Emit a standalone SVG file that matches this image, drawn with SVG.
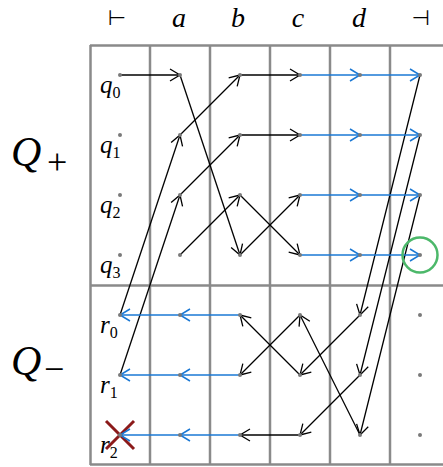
<svg xmlns="http://www.w3.org/2000/svg" width="443" height="467" viewBox="0 0 443 467">
<defs>
<style>
.grid{stroke:#8a8a8a;stroke-width:2.5;fill:none}
.e{stroke:#000;stroke-width:1.3;fill:none;marker-end:url(#ab)}
.b{stroke:#1a78d4;stroke-width:1.5;fill:none;marker-end:url(#au)}
.dot{fill:#7a7a7a}
text{fill:#000}
</style>
<marker id="ab" markerUnits="userSpaceOnUse" markerWidth="24" markerHeight="24" viewBox="-12 -12 24 24" refX="0" refY="0" orient="auto">
<path d="M-10,-6 L0,0 L-10,6" fill="none" stroke="#000" stroke-width="1.3"/>
</marker>
<marker id="au" markerUnits="userSpaceOnUse" markerWidth="24" markerHeight="24" viewBox="-12 -12 24 24" refX="0" refY="0" orient="auto">
<path d="M-10,-6 L0,0 L-10,6" fill="none" stroke="#1a78d4" stroke-width="1.5"/>
</marker>
</defs>
<rect width="443" height="467" fill="#fff"/>
<g id="grid">
<line class="grid" x1="90" y1="45.5" x2="443" y2="45.5"/>
<line class="grid" x1="90" y1="285.5" x2="443" y2="285.5"/>
<line class="grid" x1="90" y1="464.5" x2="443" y2="464.5"/>
<line class="grid" x1="90.5" y1="45" x2="90.5" y2="465"/>
<line class="grid" x1="150" y1="45" x2="150" y2="465"/>
<line class="grid" x1="210" y1="45" x2="210" y2="465"/>
<line class="grid" x1="270" y1="45" x2="270" y2="465"/>
<line class="grid" x1="330" y1="45" x2="330" y2="465"/>
<line class="grid" x1="390" y1="45" x2="390" y2="465"/>
</g>
<g id="header" font-family="Liberation Serif, DejaVu Serif, serif" font-style="italic" font-size="28">
<text x="117" y="25" text-anchor="middle" font-family="DejaVu Sans, sans-serif" font-style="normal" font-size="21">⊢</text>
<text x="179" y="27" text-anchor="middle">a</text>
<text x="238" y="27" text-anchor="middle">b</text>
<text x="298" y="27" text-anchor="middle">c</text>
<text x="359" y="27" text-anchor="middle">d</text>
<text x="421" y="25" text-anchor="middle" font-family="DejaVu Sans, sans-serif" font-style="normal" font-size="21">⊣</text>
</g>
<g id="section-labels" font-family="Liberation Serif, DejaVu Serif, serif">
<text x="11" y="166" font-style="italic" font-size="42">Q</text>
<text x="47" y="174" font-size="36">+</text>
<text x="11" y="375" font-style="italic" font-size="42">Q</text>
<text x="44" y="381" font-size="36">−</text>
</g>
<g id="state-labels" font-family="Liberation Serif, DejaVu Serif, serif" font-style="italic" font-size="25">
<text x="100" y="93">q<tspan font-style="normal" font-size="16" dy="4.5">0</tspan></text>
<text x="100" y="153">q<tspan font-style="normal" font-size="16" dy="4.5">1</tspan></text>
<text x="100" y="213">q<tspan font-style="normal" font-size="16" dy="4.5">2</tspan></text>
<text x="100" y="273">q<tspan font-style="normal" font-size="16" dy="4.5">3</tspan></text>
<text x="100" y="333">r<tspan font-style="normal" font-size="16" dy="4.5">0</tspan></text>
<text x="100" y="393">r<tspan font-style="normal" font-size="16" dy="4.5">1</tspan></text>
<text x="100" y="453">r<tspan font-style="normal" font-size="16" dy="4.5">2</tspan></text>
</g>
<g id="mark-reject">
<line x1="106" y1="421" x2="134" y2="449" stroke="#8b1a1a" stroke-width="3"/>
<line x1="134" y1="421" x2="106" y2="449" stroke="#8b1a1a" stroke-width="3"/>
</g>
<g id="connectors">
<line class="e" x1="120" y1="75" x2="180" y2="75"/>
<line class="e" x1="180" y1="75" x2="240" y2="255"/>
<line class="e" x1="180" y1="135" x2="240" y2="75"/>
<line class="e" x1="120" y1="315" x2="180" y2="135"/>
<line class="e" x1="120" y1="375" x2="180" y2="195"/>
<line class="e" x1="180" y1="195" x2="240" y2="135"/>
<line class="e" x1="180" y1="255" x2="240" y2="195"/>
<line class="e" x1="240" y1="75" x2="300" y2="75"/>
<line class="e" x1="240" y1="135" x2="300" y2="135"/>
<line class="e" x1="240" y1="195" x2="300" y2="255"/>
<line class="e" x1="240" y1="255" x2="300" y2="195"/>
<line class="e" x1="420" y1="75" x2="360" y2="315"/>
<line class="e" x1="420" y1="135" x2="360" y2="375"/>
<line class="e" x1="420" y1="195" x2="360" y2="435"/>
<line class="e" x1="360" y1="315" x2="300" y2="375"/>
<line class="e" x1="360" y1="375" x2="300" y2="435"/>
<line class="e" x1="360" y1="435" x2="300" y2="315"/>
<line class="e" x1="300" y1="375" x2="240" y2="315"/>
<line class="e" x1="300" y1="315" x2="240" y2="375"/>
<line class="e" x1="300" y1="435" x2="240" y2="435"/>
<line class="b" x1="300" y1="75" x2="360" y2="75"/>
<line class="b" x1="360" y1="75" x2="420" y2="75"/>
<line class="b" x1="300" y1="135" x2="360" y2="135"/>
<line class="b" x1="360" y1="135" x2="420" y2="135"/>
<line class="b" x1="300" y1="195" x2="360" y2="195"/>
<line class="b" x1="360" y1="195" x2="420" y2="195"/>
<line class="b" x1="300" y1="255" x2="360" y2="255"/>
<line class="b" x1="360" y1="255" x2="420" y2="255"/>
<line class="b" x1="240" y1="315" x2="180" y2="315"/>
<line class="b" x1="180" y1="315" x2="120" y2="315"/>
<line class="b" x1="240" y1="375" x2="180" y2="375"/>
<line class="b" x1="180" y1="375" x2="120" y2="375"/>
<line class="b" x1="240" y1="435" x2="180" y2="435"/>
<line class="b" x1="180" y1="435" x2="120" y2="435"/>
</g>
<g id="mark-accept">
<circle cx="420" cy="255" r="17.5" fill="none" stroke="#4cb86a" stroke-width="2.5"/>
</g>
<g id="nodes">
<g id="n-start-q0"><circle class="dot" cx="120" cy="75" r="2"/></g>
<g id="n-start-q1"><circle class="dot" cx="120" cy="135" r="2"/></g>
<g id="n-start-q2"><circle class="dot" cx="120" cy="195" r="2"/></g>
<g id="n-start-q3"><circle class="dot" cx="120" cy="255" r="2"/></g>
<g id="n-start-r0"><circle class="dot" cx="120" cy="315" r="2"/></g>
<g id="n-start-r1"><circle class="dot" cx="120" cy="375" r="2"/></g>
<g id="n-start-r2"><circle class="dot" cx="120" cy="435" r="2"/></g>
<g id="n-a-q0"><circle class="dot" cx="180" cy="75" r="2"/></g>
<g id="n-a-q1"><circle class="dot" cx="180" cy="135" r="2"/></g>
<g id="n-a-q2"><circle class="dot" cx="180" cy="195" r="2"/></g>
<g id="n-a-q3"><circle class="dot" cx="180" cy="255" r="2"/></g>
<g id="n-a-r0"><circle class="dot" cx="180" cy="315" r="2"/></g>
<g id="n-a-r1"><circle class="dot" cx="180" cy="375" r="2"/></g>
<g id="n-a-r2"><circle class="dot" cx="180" cy="435" r="2"/></g>
<g id="n-b-q0"><circle class="dot" cx="240" cy="75" r="2"/></g>
<g id="n-b-q1"><circle class="dot" cx="240" cy="135" r="2"/></g>
<g id="n-b-q2"><circle class="dot" cx="240" cy="195" r="2"/></g>
<g id="n-b-q3"><circle class="dot" cx="240" cy="255" r="2"/></g>
<g id="n-b-r0"><circle class="dot" cx="240" cy="315" r="2"/></g>
<g id="n-b-r1"><circle class="dot" cx="240" cy="375" r="2"/></g>
<g id="n-b-r2"><circle class="dot" cx="240" cy="435" r="2"/></g>
<g id="n-c-q0"><circle class="dot" cx="300" cy="75" r="2"/></g>
<g id="n-c-q1"><circle class="dot" cx="300" cy="135" r="2"/></g>
<g id="n-c-q2"><circle class="dot" cx="300" cy="195" r="2"/></g>
<g id="n-c-q3"><circle class="dot" cx="300" cy="255" r="2"/></g>
<g id="n-c-r0"><circle class="dot" cx="300" cy="315" r="2"/></g>
<g id="n-c-r1"><circle class="dot" cx="300" cy="375" r="2"/></g>
<g id="n-c-r2"><circle class="dot" cx="300" cy="435" r="2"/></g>
<g id="n-d-q0"><circle class="dot" cx="360" cy="75" r="2"/></g>
<g id="n-d-q1"><circle class="dot" cx="360" cy="135" r="2"/></g>
<g id="n-d-q2"><circle class="dot" cx="360" cy="195" r="2"/></g>
<g id="n-d-q3"><circle class="dot" cx="360" cy="255" r="2"/></g>
<g id="n-d-r0"><circle class="dot" cx="360" cy="315" r="2"/></g>
<g id="n-d-r1"><circle class="dot" cx="360" cy="375" r="2"/></g>
<g id="n-d-r2"><circle class="dot" cx="360" cy="435" r="2"/></g>
<g id="n-end-q0"><circle class="dot" cx="420" cy="75" r="2"/></g>
<g id="n-end-q1"><circle class="dot" cx="420" cy="135" r="2"/></g>
<g id="n-end-q2"><circle class="dot" cx="420" cy="195" r="2"/></g>
<g id="n-end-q3"><circle class="dot" cx="420" cy="255" r="2"/></g>
<g id="n-end-r0"><circle class="dot" cx="420" cy="315" r="2"/></g>
<g id="n-end-r1"><circle class="dot" cx="420" cy="375" r="2"/></g>
<g id="n-end-r2"><circle class="dot" cx="420" cy="435" r="2"/></g>
</g>
</svg>
